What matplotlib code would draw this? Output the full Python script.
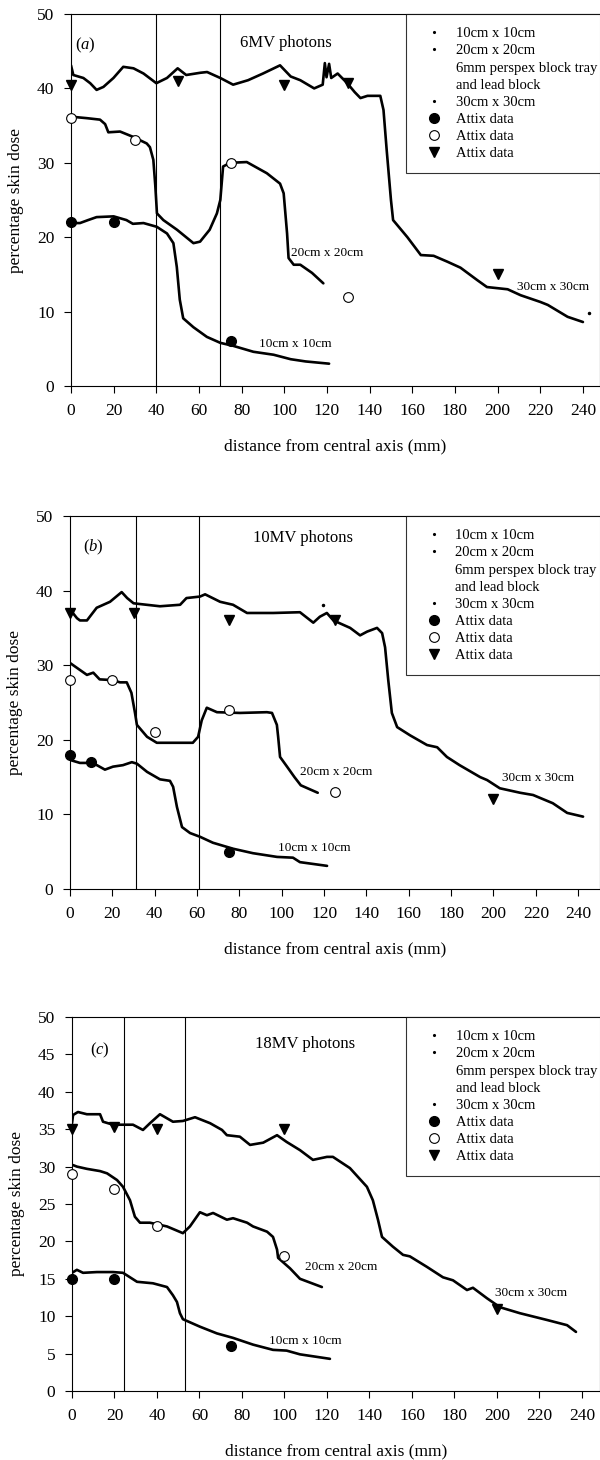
import matplotlib
matplotlib.use("Agg")
import matplotlib.pyplot as plt
from matplotlib.lines import Line2D

plt.rcParams["font.family"] = ["Liberation Serif", "DejaVu Serif"]
plt.rcParams["mathtext.fontset"] = "custom"
plt.rcParams["mathtext.it"] = "Liberation Serif:italic"
plt.rcParams["mathtext.rm"] = "Liberation Serif"

# ---------------- (a) 6MV photons ----------------
a_x30 = [0, 1.1, 5.8, 9, 12, 15.2, 19.9, 24.5, 29.3, 34, 40, 45, 50, 54, 60.6, 63.8,
         70, 76, 83, 90, 98, 103, 107.5, 114, 118, 119, 119.8, 121, 122, 125, 129.5,
         133, 135.7, 139, 145, 146.5, 148, 150, 151, 157.7, 164, 170, 176.5, 182.6,
         190.6, 195, 204.7, 210.8, 220, 223.5, 232.8, 240]
a_y30 = [43.1, 41.8, 41.4, 40.7, 39.8, 40.2, 41.4, 42.9, 42.7, 42.0, 40.7, 41.4, 42.7,
         41.8, 42.1, 42.2, 41.4, 40.5, 41.1, 42.0, 43.1, 41.6, 41.1, 40.0, 40.5, 43.4,
         41.5, 43.3, 41.4, 42.0, 40.7, 39.5, 38.7, 39.0, 39.0, 37.1, 31.7, 25.0, 22.3,
         20.0, 17.6, 17.5, 16.7, 15.9, 14.2, 13.3, 13.0, 12.2, 11.3, 10.9, 9.3, 8.6]
a_x20 = [0, 7.4, 13.6, 16, 17.5, 23, 29, 35.5, 37, 38.6, 39.5, 40.3, 43.3, 49.7, 57.4,
         60.5, 65, 68.4, 70, 71.3, 74.6, 82.4, 91.8, 98, 99.7, 101.3, 102, 104.4, 107.5,
         113, 118.3]
a_y20 = [36.2, 36.0, 35.8, 35.2, 34.1, 34.2, 33.5, 32.6, 32.1, 30.4, 27.0, 23.2, 22.3,
         21.0, 19.2, 19.4, 21.0, 23.2, 25.0, 29.5, 30.0, 30.1, 28.6, 27.2, 25.9, 20.5,
         17.2, 16.3, 16.3, 15.2, 13.8]
a_x10 = [0, 4.2, 8, 12, 20, 26, 29, 34, 40.2, 45, 48, 49.6, 51, 52.6, 57.4, 63.7, 70,
         76, 85.5, 95, 103, 110, 121]
a_y10 = [21.9, 21.9, 22.3, 22.7, 22.8, 22.3, 21.8, 21.9, 21.4, 20.5, 19.2, 16.0, 11.6,
         9.1, 7.9, 6.6, 5.8, 5.4, 4.6, 4.2, 3.6, 3.3, 3.0]
a_stray_x = [242.7]
a_stray_y = [9.8]
a_attix10_x = [0, 20, 75]
a_attix10_y = [22, 22, 6]
a_attix20_x = [0, 30, 75, 130]
a_attix20_y = [36, 33, 30, 12]
a_attix30_x = [0, 50, 100, 130, 200]
a_attix30_y = [40.5, 41, 40.5, 40.7, 15]
a_blocks = [40, 70]

# ---------------- (b) 10MV photons ----------------
b_x30 = [0.5, 3.3, 4.7, 8, 12.6, 18.9, 24.4, 27, 30, 33, 42.5, 52, 55, 61.4, 63.8,
         70.9, 77, 83.6, 96, 108.6, 114.9, 118, 121.3, 124.4, 132.3, 137, 140.3, 145,
         147.4, 148.8, 150.3, 152, 154.5, 160.6, 168.6, 173.4, 178, 184, 193.7, 197,
         203, 212.6, 218.7, 228, 234.8, 242.3]
b_y30 = [37.3, 36.3, 36.0, 36.0, 37.7, 38.5, 39.8, 39.0, 38.3, 38.2, 37.9, 38.1, 39.0,
         39.2, 39.5, 38.5, 38.1, 37.0, 37.0, 37.1, 35.7, 36.5, 37.0, 36.0, 35.0, 34.0,
         34.5, 35.0, 34.3, 32.4, 28.0, 23.6, 21.7, 20.6, 19.3, 19.0, 17.7, 16.6, 15.0,
         14.6, 13.5, 12.9, 12.6, 11.5, 10.2, 9.7]
b_x20 = [0, 1.5, 8, 11, 14, 20.3, 23.6, 26.8, 29, 30.7, 31.6, 36.4, 41, 45.8, 58, 60.5,
         62.2, 64.6, 69.4, 80.3, 93, 95.4, 97.7, 98.3, 99.2, 102.5, 106, 109, 117]
b_y20 = [30.3, 30.0, 28.7, 29.0, 28.1, 28.0, 27.7, 27.7, 26.3, 23.6, 22.0, 20.4, 19.6,
         19.6, 19.6, 20.4, 22.6, 24.3, 23.7, 23.6, 23.7, 23.6, 22.0, 20.4, 17.7, 16.4,
         15.0, 13.9, 12.9]
b_x10 = [0, 4.7, 9.4, 12.7, 16.5, 20.3, 25, 29.2, 31.6, 36.4, 42.5, 47.2, 48.7, 50.5,
         52.9, 56.7, 61.4, 67.5, 77, 86.4, 97.8, 105.3, 108.6, 121.4]
b_y10 = [17.3, 16.9, 16.9, 16.6, 16.0, 16.4, 16.6, 17.0, 16.8, 15.7, 14.7, 14.5, 13.7,
         11.0, 8.3, 7.5, 7.0, 6.2, 5.4, 4.8, 4.3, 4.2, 3.6, 3.1]
b_stray_x = [119.6]
b_stray_y = [38.1]
b_attix10_x = [0, 10, 75]
b_attix10_y = [18, 17, 5]
b_attix20_x = [0, 20, 40, 75, 125]
b_attix20_y = [28, 28, 21, 24, 13]
b_attix30_x = [0, 30, 75, 125, 200]
b_attix30_y = [37, 37, 36, 36, 12]
b_blocks = [31, 61]

# ---------------- (c) 18MV photons ----------------
c_x30 = [0, 0.5, 2.8, 7, 13.2, 14.6, 19.3, 28.7, 33.4, 36.7, 41.4, 47.5, 52.2, 57.9,
         65, 70.6, 72.9, 79, 83.8, 90, 96.5, 101, 107.3, 113.4, 120, 122.8, 130.8,
         138.8, 141.6, 144, 145.9, 151, 155.8, 159, 167, 174.6, 179.3, 185.9, 188.7,
         195.3, 201.4, 210.8, 223.5, 233, 237.2]
c_y30 = [35.8, 36.9, 37.3, 37.0, 37.0, 36.0, 35.6, 35.6, 34.9, 35.8, 37.0, 36.0, 36.1,
         36.6, 35.8, 34.9, 34.2, 34.0, 32.9, 33.2, 34.2, 33.3, 32.2, 30.9, 31.3, 31.3,
         29.8, 27.3, 25.5, 22.9, 20.6, 19.3, 18.2, 18.0, 16.6, 15.2, 14.8, 13.5, 13.8,
         12.4, 11.2, 10.4, 9.5, 8.8, 7.9]
c_x20 = [0.5, 2.3, 7, 13.2, 16.5, 21.2, 24, 27.3, 29.6, 32, 36.7, 44.7, 52.2, 55.5,
         60.2, 63.5, 66.4, 72.9, 75.8, 82.4, 85.2, 91.8, 94.6, 96.5, 97, 102.6, 107.3,
         117.6]
c_y20 = [30.2, 30.0, 29.7, 29.4, 29.1, 28.2, 27.3, 25.5, 23.3, 22.5, 22.5, 22.0, 21.1,
         22.0, 23.9, 23.5, 23.8, 22.9, 23.1, 22.5, 22.0, 21.3, 20.6, 18.9, 17.8, 16.4,
         15.0, 13.9]
c_x10 = [0, 2.3, 5.2, 11.7, 19.3, 24, 30.6, 38.1, 44.7, 47.5, 49.4, 50.8, 52.2, 60.2,
         68.2, 75.8, 85.2, 94.6, 101, 107.3, 121.4]
c_y10 = [15.8, 16.2, 15.8, 15.9, 15.9, 15.8, 14.6, 14.4, 13.9, 12.8, 11.9, 10.4, 9.6,
         8.6, 7.7, 7.1, 6.2, 5.5, 5.4, 4.9, 4.3]
c_attix10_x = [0, 20, 75]
c_attix10_y = [15, 15, 6]
c_attix20_x = [0, 20, 40, 100]
c_attix20_y = [29, 27, 22, 18]
c_attix30_x = [0, 20, 40, 100, 200]
c_attix30_y = [35, 35.3, 35, 35, 11]
c_blocks = [24.5, 53]

legend_labels = ["10cm x 10cm", "20cm x 20cm", "6mm perspex block tray",
                 "and lead block", "30cm x 30cm", "Attix data", "Attix data",
                 "Attix data"]


def draw_panel(ax, curves, strays, attix, blocks, letter, title, field_labels,
               yticks, xmax):
    for x, y in curves:
        ax.plot(x, y, color="black", lw=1.9, solid_capstyle="round", zorder=3)
    for x, y in strays:
        ax.plot(x, y, ".", color="black", ms=3, zorder=3)

    (x10, y10), (x20, y20), (x30, y30) = attix
    ax.plot(x10, y10, "o", color="black", ms=7, clip_on=False, zorder=4)
    ax.plot(x20, y20, "o", mfc="white", mec="black", mew=0.8, ms=7,
            clip_on=False, zorder=4)
    ax.plot(x30, y30, "v", color="black", ms=7, clip_on=False, zorder=4)

    for b in blocks:
        ax.axvline(b, color="black", lw=0.8, zorder=1)

    ax.text(*letter[0], "(" + r"$\it{" + letter[1] + "}$" + ")", fontsize=12)
    ax.text(*title[0], title[1], fontsize=12)
    for (tx, ty), s in field_labels:
        ax.text(tx, ty, s, fontsize=9.5, va="center")

    ax.set_xlim(0, xmax)
    ax.set_ylim(0, 50)
    ax.set_xticks(range(0, 241, 20))
    ax.set_yticks(yticks)
    ax.tick_params(direction="out", length=5, width=0.8, labelsize=12.5, pad=7)
    for s in ax.spines.values():
        s.set_linewidth(0.8)
    ax.set_xlabel("distance from central axis (mm)", fontsize=12.5, labelpad=14)
    ax.set_ylabel("percentage skin dose", fontsize=12.5, labelpad=9)

    dot = dict(ls="none", marker=".", ms=2.5, color="black")
    handles = [
        Line2D([], [], **dot),
        Line2D([], [], **dot),
        Line2D([], [], ls="none"),
        Line2D([], [], ls="none"),
        Line2D([], [], **dot),
        Line2D([], [], ls="none", marker="o", ms=7, color="black"),
        Line2D([], [], ls="none", marker="o", ms=7, mfc="white", mec="black", mew=0.8),
        Line2D([], [], ls="none", marker="v", ms=7, color="black"),
    ]
    x0 = (406 - 71) / 529
    leg = ax.legend(handles, legend_labels, loc="upper left",
                    bbox_to_anchor=(x0, 0.0, 0.45, 1.0), mode="expand",
                    borderaxespad=0, fontsize=10.5, frameon=True, fancybox=False,
                    edgecolor="black", handlelength=2.05, handletextpad=0.45,
                    borderpad=0.9, labelspacing=0.27)
    leg.get_frame().set_linewidth(0.8)


fig = plt.figure(figsize=(6, 14.6), dpi=100)

ax_a = fig.add_axes([71 / 600, 1 - 386 / 1460, 529 / 600, 372 / 1460])
draw_panel(ax_a, [(a_x30, a_y30), (a_x20, a_y20), (a_x10, a_y10)],
           [(a_stray_x, a_stray_y)],
           [(a_attix10_x, a_attix10_y), (a_attix20_x, a_attix20_y),
            (a_attix30_x, a_attix30_y)],
           a_blocks, ((2, 45.2), "a"), ((79, 45.5), "6MV photons"),
           [((103, 17.9), "20cm x 20cm"), ((88, 5.6), "10cm x 10cm"),
            ((209, 13.3), "30cm x 30cm")],
           range(0, 51, 10), 248)

ax_b = fig.add_axes([70 / 600, 1 - 889 / 1460, 530 / 600, 373 / 1460])
draw_panel(ax_b, [(b_x30, b_y30), (b_x20, b_y20), (b_x10, b_y10)],
           [(b_stray_x, b_stray_y)],
           [(b_attix10_x, b_attix10_y), (b_attix20_x, b_attix20_y),
            (b_attix30_x, b_attix30_y)],
           b_blocks, ((6, 45.2), "b"), ((86.5, 46.5), "10MV photons"),
           [((108.6, 15.7), "20cm x 20cm"), ((98, 5.5), "10cm x 10cm"),
            ((204, 14.9), "30cm x 30cm")],
           range(0, 51, 10), 250.3)

ax_c = fig.add_axes([72 / 600, 1 - 1391 / 1460, 528 / 600, 374 / 1460])
draw_panel(ax_c, [(c_x30, c_y30), (c_x20, c_y20), (c_x10, c_y10)],
           [],
           [(c_attix10_x, c_attix10_y), (c_attix20_x, c_attix20_y),
            (c_attix30_x, c_attix30_y)],
           c_blocks, ((8.5, 45.0), "c"), ((86, 45.8), "18MV photons"),
           [((109.6, 16.6), "20cm x 20cm"), ((92.7, 6.7), "10cm x 10cm"),
            ((199, 13.1), "30cm x 30cm")],
           range(0, 51, 5), 248.5)

fig.savefig("out.png", dpi=100)
